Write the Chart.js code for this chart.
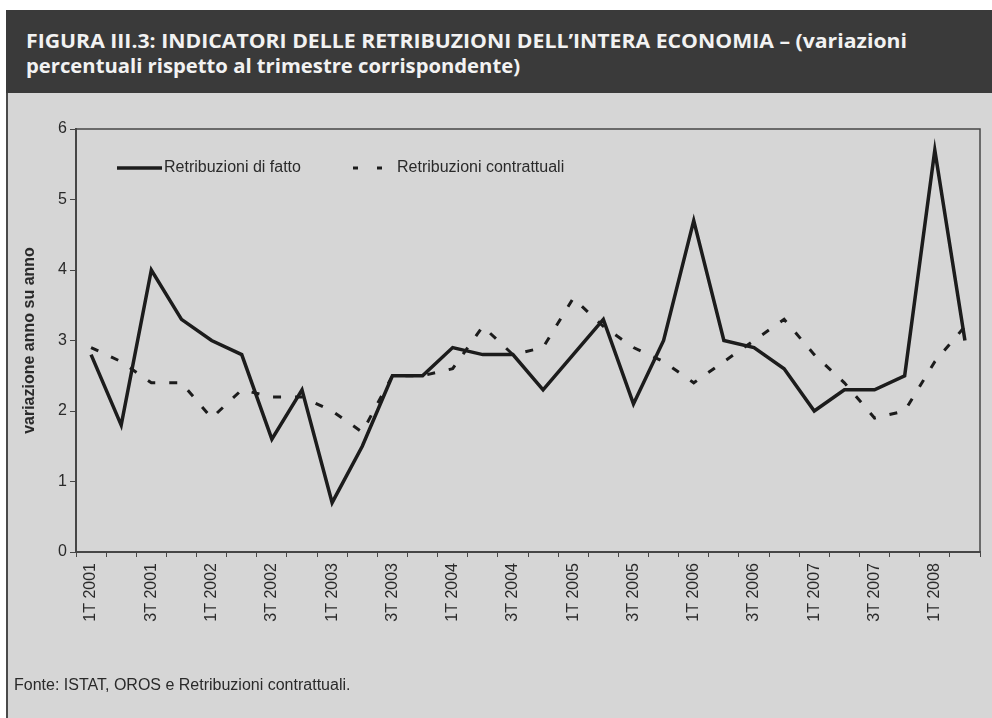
<!DOCTYPE html>
<html lang="it">
<head>
<meta charset="utf-8">
<title>Figura III.3</title>
<script src="https://cdn.jsdelivr.net/npm/chart.js@4.4.1/dist/chart.umd.min.js"></script>
<style>
  html, body { margin: 0; padding: 0; background: #fff; }
  body { width: 992px; height: 718px; position: relative; overflow: hidden; font-family: "Liberation Sans", Arial, sans-serif; }
  #frame { position: absolute; left: 6px; top: 10px; width: 986px; height: 708px; background: #d6d6d6; border-left: 2px solid #4a4a4a; box-sizing: border-box; }
  #header { position: absolute; left: 6px; top: 10px; width: 986px; height: 83px; background: #3a3a3a; }
  .tline { position: absolute; left: 26px; color: #f2f2f2; font: bold 20px "Open Sans", "DejaVu Sans", sans-serif; white-space: nowrap; transform-origin: 0 0; }
  #wrap { position: absolute; left: 0; top: 93px; width: 992px; height: 625px; }
  #fonte { position: absolute; left: 14px; top: 676px; font-size: 16px; color: #2a2a2a; }
</style>
</head>
<body>
<div id="frame"></div>
<div id="header"></div>
<div class="tline" id="t1" data-w="881" style="top:27px">FIGURA III.3: INDICATORI DELLE RETRIBUZIONI DELL’INTERA ECONOMIA – (variazioni</div>
<div class="tline" id="t2" data-w="494" style="top:52px">percentuali rispetto al trimestre corrispondente)</div>
<div id="wrap"><canvas id="chart"></canvas></div>
<div id="fonte">Fonte: ISTAT, OROS e Retribuzioni contrattuali.</div>
<script>
// trimestri dal 1T 2001 al 2T 2008
const quarters = [
  '1T 2001', '2T 2001', '3T 2001', '4T 2001',
  '1T 2002', '2T 2002', '3T 2002', '4T 2002',
  '1T 2003', '2T 2003', '3T 2003', '4T 2003',
  '1T 2004', '2T 2004', '3T 2004', '4T 2004',
  '1T 2005', '2T 2005', '3T 2005', '4T 2005',
  '1T 2006', '2T 2006', '3T 2006', '4T 2006',
  '1T 2007', '2T 2007', '3T 2007', '4T 2007',
  '1T 2008', '2T 2008'
];

const retribuzioniFatto = [
  2.8, 1.8, 4.0, 3.3, 3.0, 2.8, 1.6, 2.3, 0.7, 1.5,
  2.5, 2.5, 2.9, 2.8, 2.8, 2.3, 2.8, 3.3, 2.1, 3.0,
  4.7, 3.0, 2.9, 2.6, 2.0, 2.3, 2.3, 2.5, 5.7, 3.0
];

const retribuzioniContrattuali = [
  2.9, 2.7, 2.4, 2.4, 1.9, 2.3, 2.2, 2.2, 2.0, 1.7,
  2.5, 2.5, 2.6, 3.2, 2.8, 2.9, 3.6, 3.2, 2.9, 2.7,
  2.4, 2.7, 3.0, 3.3, 2.8, 2.4, 1.9, 2.0, 2.7, 3.2
];

const ink = '#1c1c1c';
const axisColor = '#474747';

// stretch title lines to the header width
document.querySelectorAll('.tline').forEach(el => {
  const w = el.getBoundingClientRect().width;
  el.style.transform = 'scaleX(' + (parseFloat(el.dataset.w) / w) + ')';
});

// frame round the plot area
const plotFrame = {
  id: 'plotFrame',
  beforeDatasetsDraw(chart) {
    const { ctx, chartArea: a } = chart;
    ctx.save();
    ctx.strokeStyle = axisColor;
    ctx.lineWidth = 1.5;
    ctx.strokeRect(a.left, a.top, a.right - a.left, a.bottom - a.top);
    ctx.restore();
  }
};

// legend drawn inside the plot, no box
const innerLegend = {
  id: 'innerLegend',
  afterDraw(chart) {
    const { ctx } = chart;
    const y = 75;
    const items = [
      { ds: chart.data.datasets[0], x0: 117, x1: 162, tx: 164 },
      { ds: chart.data.datasets[1], x0: 353, x1: 382, tx: 397 }
    ];
    ctx.save();
    ctx.font = '16px "Liberation Sans", Arial, sans-serif';
    ctx.textBaseline = 'middle';
    ctx.fillStyle = '#2a2a2a';
    items.forEach(it => {
      ctx.strokeStyle = it.ds.borderColor;
      ctx.lineWidth = it.ds.borderWidth;
      ctx.setLineDash(it.ds.borderDash.length ? [5, 19] : []);
      ctx.beginPath();
      ctx.moveTo(it.x0, y);
      ctx.lineTo(it.x1, y);
      ctx.stroke();
      ctx.setLineDash([]);
      ctx.fillText(it.ds.label, it.tx, y);
    });
    ctx.restore();
  }
};

const ctx = document.getElementById('chart').getContext('2d');

new Chart(ctx, {
  type: 'line',
  data: {
    labels: quarters,
    datasets: [
      {
        label: 'Retribuzioni di fatto',
        data: retribuzioniFatto,
        borderColor: ink,
        borderWidth: 3.5,
        borderDash: [],
        pointRadius: 0,
        tension: 0,
        fill: false
      },
      {
        label: 'Retribuzioni contrattuali',
        data: retribuzioniContrattuali,
        borderColor: ink,
        borderWidth: 3,
        borderDash: [8, 14],
        pointRadius: 0,
        tension: 0,
        fill: false
      }
    ]
  },
  options: {
    responsive: true,
    maintainAspectRatio: false,
    animation: false,
    layout: { padding: { top: 36, right: 12, left: 0, bottom: 0 } },
    plugins: {
      legend: { display: false },
      tooltip: { enabled: false }
    },
    scales: {
      x: {
        offset: true,
        afterFit(scale) { scale.height = 166; },
        grid: {
          offset: true,
          drawOnChartArea: false,
          tickLength: 5,
          color: axisColor,
          lineWidth: 1
        },
        border: { color: axisColor, width: 2 },
        ticks: {
          autoSkip: false,
          minRotation: 90,
          maxRotation: 90,
          padding: 6,
          color: '#2a2a2a',
          font: { family: '"Liberation Sans", Arial, sans-serif', size: 16 },
          callback(value, index) {
            return index % 2 === 0 ? this.getLabelForValue(value) : '';
          }
        }
      },
      y: {
        min: 0,
        max: 6,
        afterFit(scale) { scale.width = 76; },
        grid: {
          drawOnChartArea: false,
          tickLength: 6,
          color: axisColor,
          lineWidth: 1
        },
        border: { color: axisColor, width: 2 },
        ticks: {
          stepSize: 1,
          padding: 3,
          color: '#2a2a2a',
          font: { family: '"Liberation Sans", Arial, sans-serif', size: 16 }
        },
        title: {
          display: true,
          text: 'variazione anno su anno',
          color: '#2a2a2a',
          padding: { top: 20, bottom: 0 },
          font: { family: '"Liberation Sans", Arial, sans-serif', size: 16, weight: 'bold' }
        }
      }
    }
  },
  plugins: [plotFrame, innerLegend]
});
</script>
</body>
</html>
